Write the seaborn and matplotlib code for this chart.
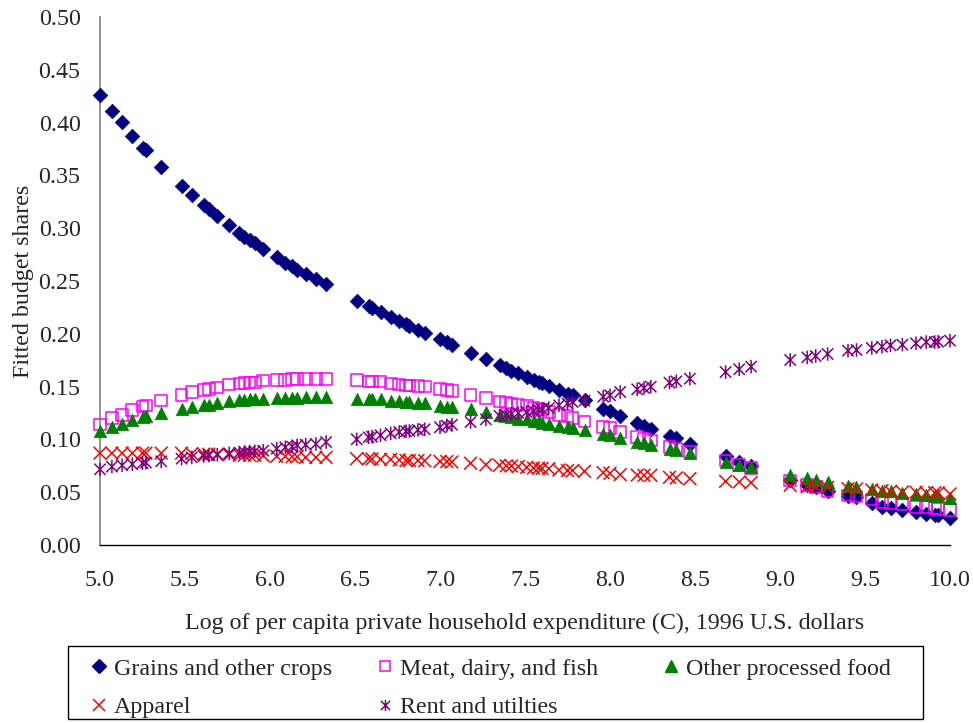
import matplotlib
matplotlib.use("Agg")
import matplotlib.pyplot as plt
import seaborn as sns
import pandas as pd
from matplotlib.path import Path
from matplotlib.lines import Line2D
from matplotlib.patches import Rectangle

# ---------------- data ----------------
log_expenditure = [
    5.00, 5.07, 5.13, 5.19, 5.25, 5.27, 5.36, 5.48, 5.54, 5.61,
    5.64, 5.69, 5.76, 5.82, 5.85, 5.88, 5.91, 5.96, 6.04, 6.09,
    6.13, 6.16, 6.21, 6.27, 6.33,
    6.51, 6.58, 6.60, 6.65, 6.71, 6.76, 6.80, 6.82, 6.87, 6.91,
    7.00, 7.04, 7.07, 7.18, 7.27, 7.35, 7.39, 7.42, 7.46, 7.51,
    7.55, 7.58, 7.60, 7.64, 7.70, 7.75, 7.78, 7.85, 7.96, 8.00,
    8.06, 8.16, 8.20, 8.24, 8.35, 8.39, 8.47, 8.68, 8.76, 8.83,
    9.06, 9.16, 9.21, 9.28, 9.40, 9.45, 9.54, 9.60, 9.65, 9.72,
    9.80, 9.86, 9.91, 9.93, 10.00,
]

grains = [
    0.426, 0.411, 0.401, 0.387, 0.376, 0.374, 0.358, 0.340, 0.331, 0.322,
    0.318, 0.312, 0.303, 0.295, 0.292, 0.289, 0.286, 0.280, 0.273, 0.267,
    0.264, 0.260, 0.257, 0.252, 0.247,
    0.231, 0.226, 0.224, 0.221, 0.216, 0.212, 0.209, 0.207, 0.204, 0.201,
    0.195, 0.192, 0.189, 0.182, 0.176, 0.170, 0.168, 0.165, 0.163, 0.159,
    0.156, 0.154, 0.153, 0.151, 0.147, 0.143, 0.142, 0.137, 0.129, 0.127,
    0.122, 0.116, 0.113, 0.110, 0.103, 0.101, 0.096, 0.084, 0.079, 0.075,
    0.062, 0.057, 0.055, 0.051, 0.046, 0.045, 0.040, 0.036, 0.035, 0.033,
    0.031, 0.029, 0.028, 0.028, 0.026,
]

meat = [
    0.114, 0.120, 0.123, 0.128, 0.131, 0.132, 0.137, 0.142, 0.145, 0.147,
    0.148, 0.149, 0.152, 0.153, 0.1535, 0.154, 0.154, 0.1556, 0.156, 0.1565,
    0.157, 0.157, 0.157, 0.157, 0.157,
    0.156, 0.155, 0.155, 0.1547, 0.153, 0.152, 0.151, 0.151, 0.1505, 0.150,
    0.148, 0.147, 0.146, 0.142, 0.139, 0.136, 0.135, 0.134, 0.133, 0.132,
    0.130, 0.129, 0.128, 0.126, 0.123, 0.122, 0.120, 0.117, 0.112, 0.111,
    0.107, 0.102, 0.101, 0.099, 0.093, 0.091, 0.088, 0.080, 0.076, 0.073,
    0.061, 0.057, 0.055, 0.051, 0.047, 0.046, 0.043, 0.041, 0.040, 0.039,
    0.036, 0.036, 0.035, 0.034, 0.033,
]

other_food = [
    0.108, 0.112, 0.115, 0.118, 0.121, 0.122, 0.125, 0.129, 0.131, 0.1325,
    0.133, 0.134, 0.1365, 0.137, 0.1375, 0.138, 0.138, 0.1383, 0.139, 0.139,
    0.1395, 0.1395, 0.1398, 0.1398, 0.1398,
    0.1385, 0.1385, 0.138, 0.138, 0.1366, 0.136, 0.135, 0.135, 0.1345, 0.134,
    0.132, 0.131, 0.131, 0.1285, 0.126, 0.1234, 0.122, 0.121, 0.1196, 0.119,
    0.1177, 0.117, 0.116, 0.115, 0.113, 0.112, 0.111, 0.109, 0.105, 0.104,
    0.101, 0.098, 0.097, 0.095, 0.091, 0.090, 0.087, 0.079, 0.076, 0.0736,
    0.066, 0.0634, 0.062, 0.060, 0.056, 0.055, 0.053, 0.0515, 0.051, 0.049,
    0.048, 0.047, 0.046, 0.046, 0.0445,
]

apparel = [
    0.087, 0.087, 0.087, 0.087, 0.087, 0.087, 0.087, 0.087, 0.0865, 0.086,
    0.086, 0.086, 0.0855, 0.085, 0.085, 0.085, 0.085, 0.0845, 0.084, 0.084,
    0.0835, 0.0835, 0.083, 0.083, 0.083,
    0.0817, 0.0817, 0.0815, 0.0811, 0.081, 0.0805, 0.080, 0.080, 0.080, 0.0798,
    0.0792, 0.079, 0.0786, 0.0774, 0.076, 0.0755, 0.075, 0.0748, 0.0742, 0.0735,
    0.0729, 0.0727, 0.0725, 0.0723, 0.071, 0.0705, 0.0704, 0.0698, 0.0685, 0.0679,
    0.0666, 0.0662, 0.066, 0.066, 0.0641, 0.0635, 0.0628, 0.0603, 0.0597, 0.059,
    0.0565, 0.0552, 0.0552, 0.0546, 0.0533, 0.053, 0.0521, 0.0515, 0.0508, 0.0502,
    0.050, 0.0495, 0.0495, 0.0495, 0.0483,
]

rent = [
    0.0717, 0.0742, 0.0755, 0.0765, 0.0775, 0.078, 0.0793, 0.0817, 0.083, 0.0843,
    0.0848, 0.0855, 0.0868, 0.0875, 0.088, 0.0885, 0.0887, 0.0893, 0.0912, 0.0925,
    0.0931, 0.0944, 0.095, 0.0957, 0.0975,
    0.1001, 0.102, 0.1025, 0.1039, 0.1058, 0.107, 0.1077, 0.108, 0.109, 0.1096,
    0.1115, 0.113, 0.1139, 0.1165, 0.119, 0.1222, 0.123, 0.1241, 0.125, 0.1259,
    0.127, 0.1278, 0.1285, 0.1297, 0.1323, 0.134, 0.1354, 0.1366, 0.1404, 0.1418,
    0.1449, 0.1474, 0.1487, 0.1499, 0.1537, 0.155, 0.1575, 0.1638, 0.1664, 0.1689,
    0.1752, 0.1777, 0.179, 0.1809, 0.184, 0.1847, 0.1866, 0.1878, 0.1891, 0.1897,
    0.191, 0.1922, 0.1922, 0.1925, 0.1935,
]

series_names = ["Grains and other crops", "Meat, dairy, and fish",
                "Other processed food", "Apparel", "Rent and utilties"]
x_ticks = [5.0, 5.5, 6.0, 6.5, 7.0, 7.5, 8.0, 8.5, 9.0, 9.5, 10.0]
y_ticks = [0.00, 0.05, 0.10, 0.15, 0.20, 0.25, 0.30, 0.35, 0.40, 0.45, 0.50]

# ---------------- style ----------------
sns.set_style("white")
plt.rcParams["font.family"] = ["Liberation Serif", "DejaVu Serif"]
plt.rcParams["font.size"] = 17
FS = 17.3

star = Path([(-1, -1), (1, 1), (-1, 1), (1, -1), (0, -1.2), (0, 1.2)],
            [Path.MOVETO, Path.LINETO, Path.MOVETO, Path.LINETO,
             Path.MOVETO, Path.LINETO])

styles = [
    dict(marker="D", color="#000080", filled=True, s=55, ms=7),
    dict(marker="s", color="#FF00FF", filled=False, s=70, ms=7.5),
    dict(marker="^", color="#008000", filled=True, s=80, ms=8),
    dict(marker="x", color="#FF0000", filled=False, s=85, ms=8),
    dict(marker=star, color="#800080", filled=False, s=95, ms=8),
]
values = [grains, meat, other_food, apparel, rent]

df = pd.DataFrame({"x": log_expenditure})
for name, vals in zip(series_names, values):
    df[name] = vals

fig = plt.figure(figsize=(9.73, 7.23), dpi=100)
ax = fig.add_axes([100 / 973, 1 - 545 / 723, 850 / 973, 528 / 723])

for name, st in zip(series_names, styles):
    n_before = len(ax.collections)
    sns.scatterplot(data=df, x="x", y=name, ax=ax, marker=st["marker"],
                    s=st["s"], color=st["color"], legend=False, clip_on=False,
                    zorder=3)
    coll = ax.collections[n_before]
    if st["filled"]:
        coll.set_facecolor(st["color"])
        coll.set_edgecolor(st["color"])
        coll.set_linewidth(0.5)
    else:
        coll.set_facecolor("none")
        coll.set_edgecolor(st["color"])
        coll.set_linewidth(1.1)

ax.set_xlim(5.0, 10.0)
ax.set_ylim(0.0, 0.5)
ax.set_xticks(x_ticks)
ax.set_xticklabels([f"{t:.1f}" for t in x_ticks])
ax.set_yticks(y_ticks)
ax.set_yticklabels([f"{t:.2f}" for t in y_ticks])

for side in ["top", "right"]:
    ax.spines[side].set_visible(False)
ax.spines["left"].set_color("#808080")
ax.spines["bottom"].set_color("#000000")
ax.spines["left"].set_linewidth(1.2)
ax.spines["bottom"].set_linewidth(1.0)

ax.tick_params(axis="both", direction="out", length=6, width=1,
               color="#000000", labelsize=FS)
ax.tick_params(axis="y", pad=8)
ax.tick_params(axis="x", pad=12)

ax.set_xlabel("Log of per capita private household expenditure (C), 1996 U.S. dollars",
              fontsize=FS, labelpad=16)
ax.set_ylabel("Fitted budget shares", fontsize=FS, labelpad=3)

# legend: frame + three columns
def make_handle(st):
    if st["filled"]:
        return Line2D([], [], linestyle="none", marker=st["marker"],
                      markersize=st["ms"], markerfacecolor=st["color"],
                      markeredgecolor=st["color"])
    return Line2D([], [], linestyle="none", marker=st["marker"],
                  markersize=st["ms"], markerfacecolor="none",
                  markeredgecolor=st["color"], markeredgewidth=1.1)

handles = {n: make_handle(st) for n, st in zip(series_names, styles)}

fig.patches.append(Rectangle((68 / 973, 1 - 719 / 723), 855 / 973, 73 / 723,
                             transform=fig.transFigure, fill=False,
                             edgecolor="#000000", linewidth=1.0))

columns = [
    (91 / 973, [series_names[0], series_names[3]]),
    (377 / 973, [series_names[1], series_names[4]]),
    (663 / 973, [series_names[2]]),
]
for xpos, names in columns:
    leg = fig.legend([handles[n] for n in names], names, loc="upper left",
                     bbox_to_anchor=(xpos, 1 - 658 / 723), frameon=False,
                     fontsize=FS, handlelength=0.7, handletextpad=0.25,
                     borderaxespad=0, borderpad=0, labelspacing=0.68)

fig.savefig("out.png", dpi=100)
